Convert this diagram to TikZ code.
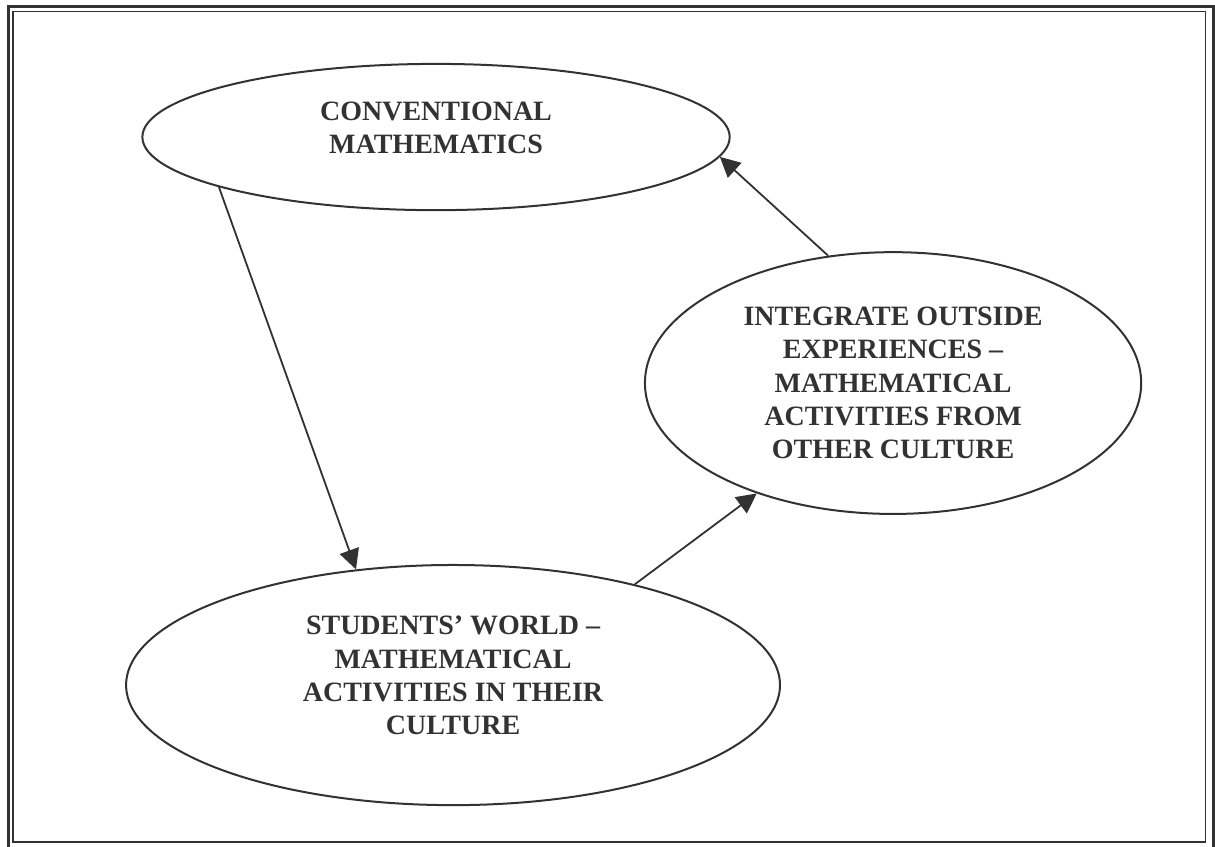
\documentclass[tikz,border=0pt]{standalone}
\usepackage{fontspec}
\setmainfont{Liberation Serif}
\usetikzlibrary{shapes.geometric,arrows.meta}
\definecolor{ink}{RGB}{50,50,50}
\tikzset{
  oval/.style={ellipse, draw=ink, line width=1pt, inner sep=0pt},
  boxtext/.style={align=center, text=ink, inner sep=0pt,
    font=\fontsize{14pt}{16.6pt}\selectfont\bfseries},
  link/.style={draw=ink, line width=0.9pt, -{Triangle[length=10pt,width=10pt]}}
}
\begin{document}
\begin{tikzpicture}
  \useasboundingbox (0,0) rectangle (21.35,14.867);
  % double frame
  \draw[ink, line width=1.5pt] (0.146,-0.035) rectangle (21.322,14.758);
  \draw[ink, line width=0.8pt] (0.232,0.070) rectangle (21.181,14.665);

  \node[oval, minimum width=10.32cm, minimum height=2.57cm] (conv) at (7.662,12.459) {};
  \node[oval, minimum width=8.72cm, minimum height=4.6cm] (integ) at (15.693,8.136) {};
  \node[oval, minimum width=11.49cm, minimum height=4.22cm] (world) at (7.961,2.829) {};

  \node[boxtext] (convtext) at (7.662,12.626) {CONVENTIONAL\\MATHEMATICS};
  \node[boxtext] (integtext) at (15.693,8.136) {INTEGRATE OUTSIDE\\EXPERIENCES –\\MATHEMATICAL\\ACTIVITIES FROM\\OTHER CULTURE};
  \node[boxtext] (worldtext) at (7.961,2.996) {STUDENTS’ WORLD –\\MATHEMATICAL\\ACTIVITIES IN THEIR\\CULTURE};

  \draw[link] (conv.193) -- (world.130);
  \draw[link] (world.29) -- (integ.219);
  \draw[link] (integ.117) -- (conv.356);
\end{tikzpicture}
\end{document}
